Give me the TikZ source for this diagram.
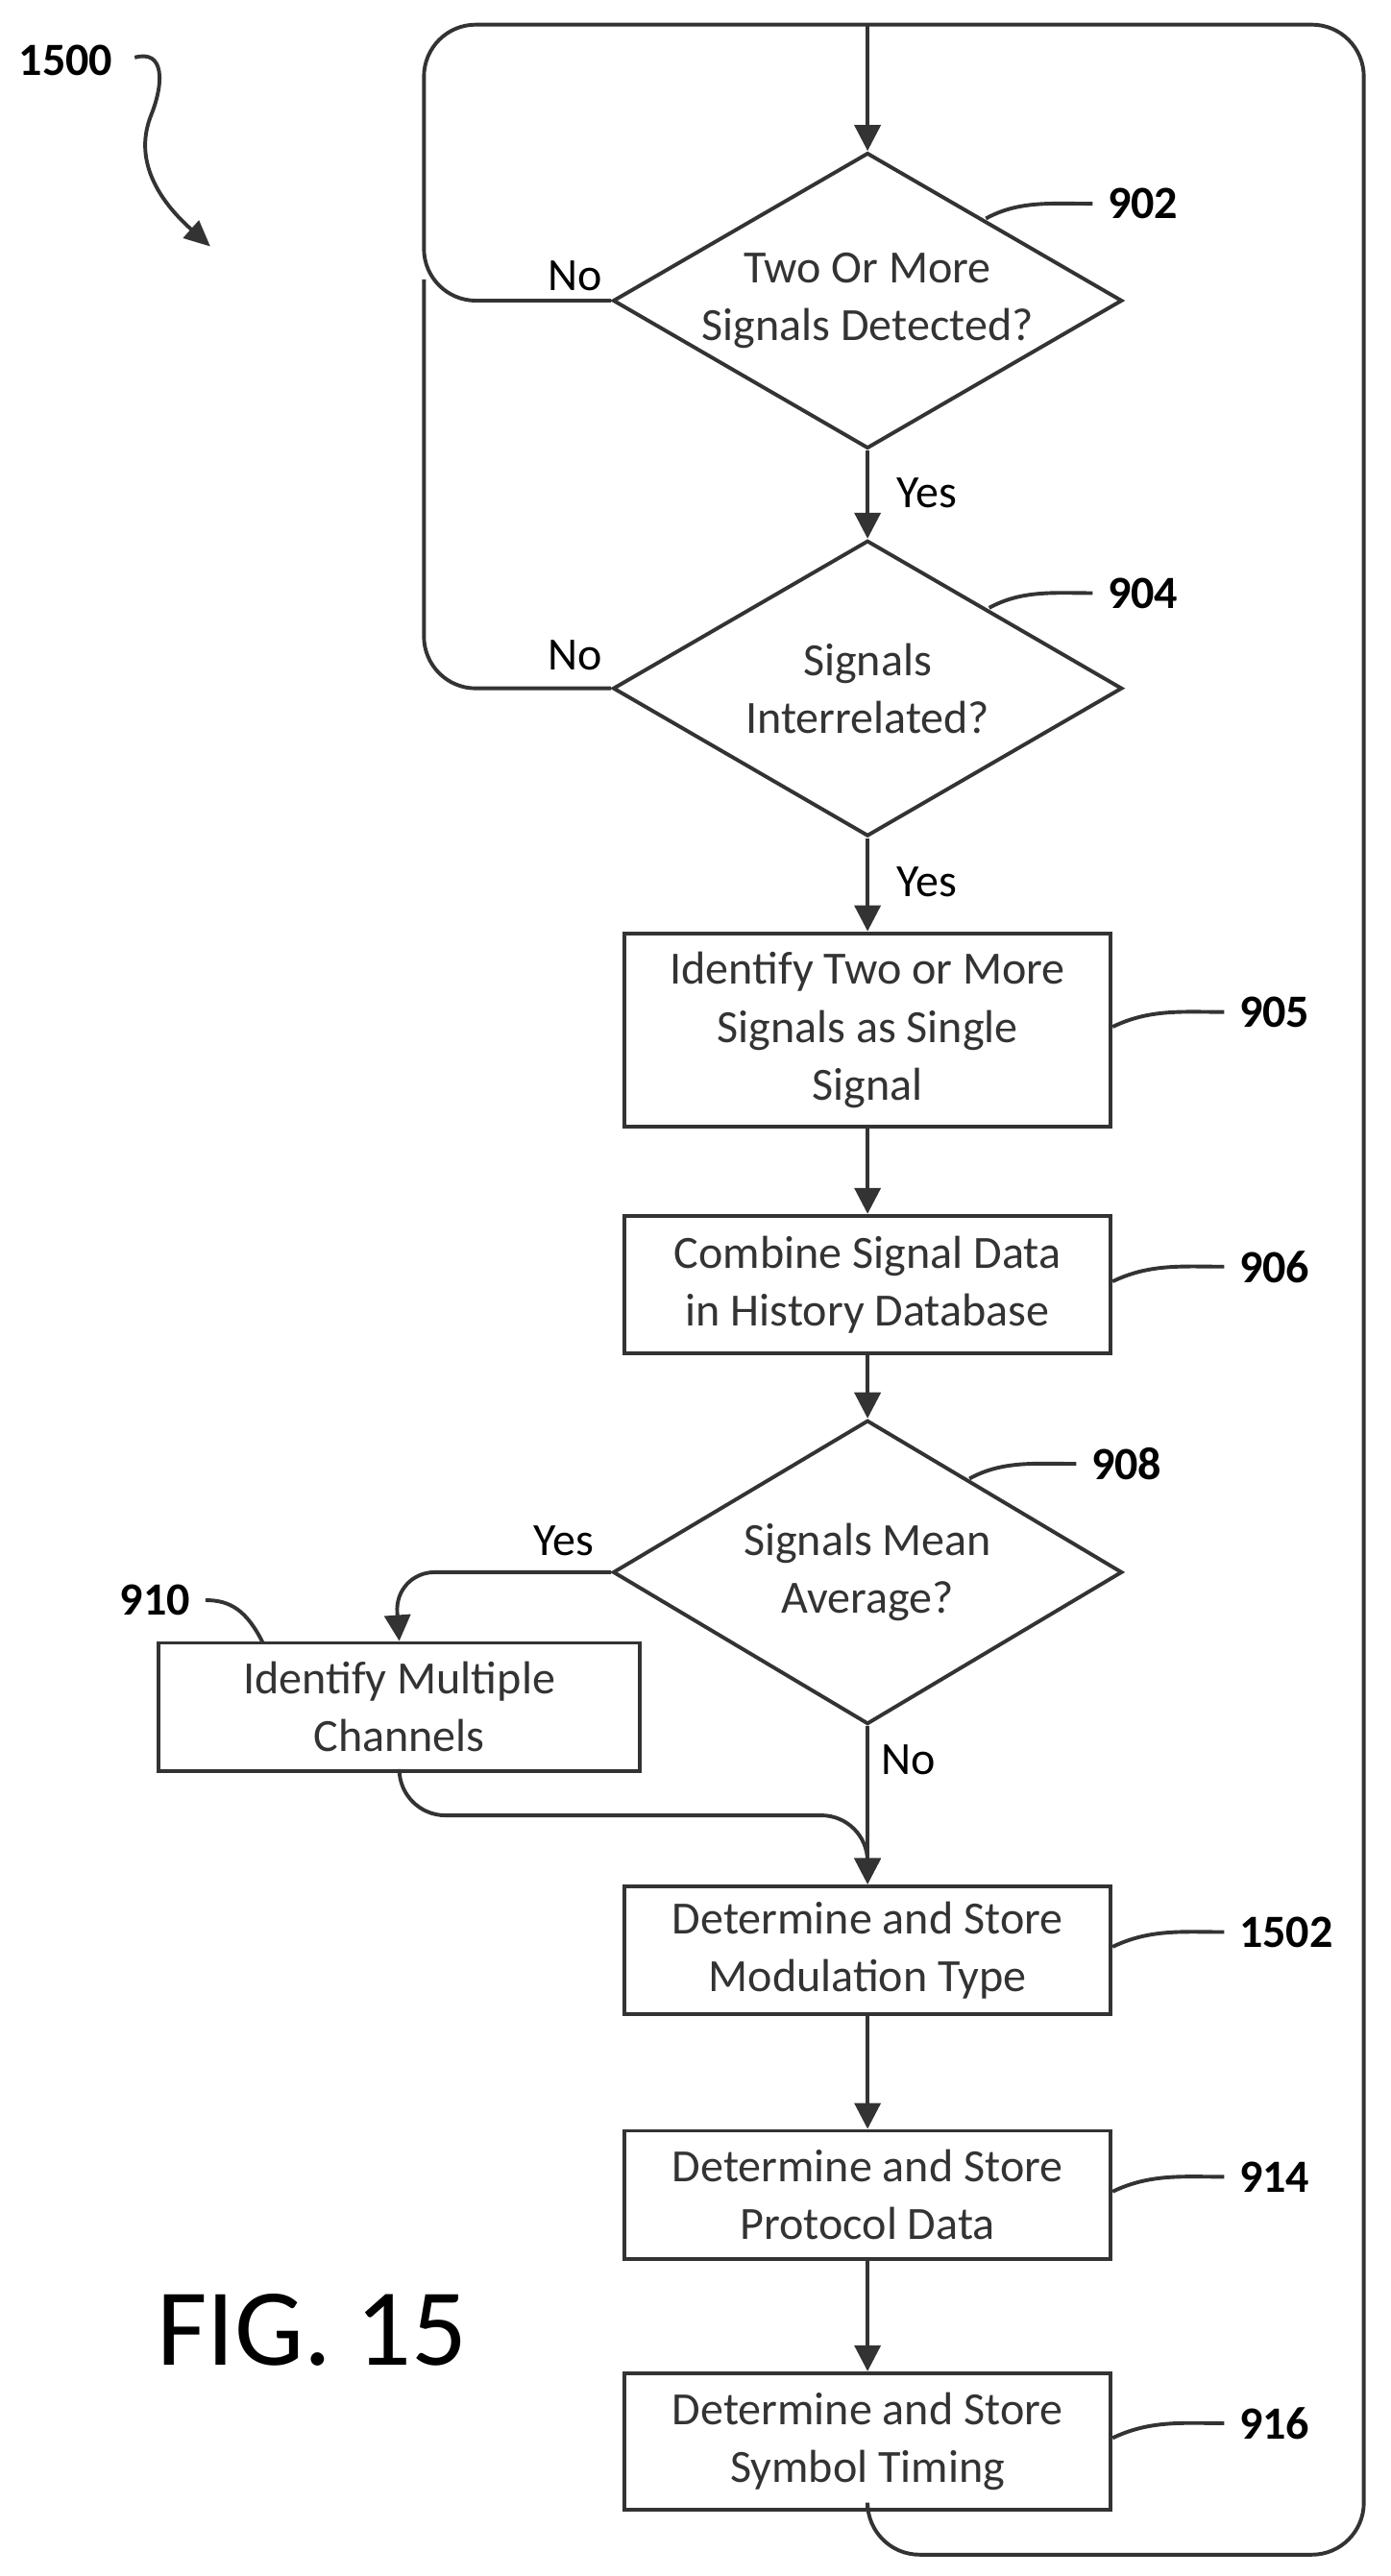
\documentclass[tikz,border=0pt]{standalone}
\usepackage{fontspec}
\setmainfont{Carlito}
\usetikzlibrary{shapes.geometric,arrows.meta}
\tikzset{
  line/.style={line width=1.3pt, black!80},
  arrow/.style={line, -{Triangle[length=9pt,width=9pt]}},
  decision/.style={draw, line, diamond, minimum width=6.2cm, minimum height=3.6cm, inner sep=0pt, aspect=1.7, align=center, font=\fontsize{16}{20}\selectfont},
  process/.style={draw, line, rectangle, minimum width=5.92cm, minimum height=1.56cm, align=center, font=\fontsize{16}{20}\selectfont},
  ref/.style={font=\bfseries\fontsize{16}{20}\selectfont},
  tag/.style={font=\fontsize{16}{20}\selectfont}
}
\begin{document}
\begin{tikzpicture}[x=0.02cm,y=-0.02cm]
\useasboundingbox (0,0) rectangle (846,1568);
\node[decision] (d902) at (528,183) {Two Or More\\Signals Detected?};
\node[decision] (d904) at (528,419) {Signals\\Interrelated?};
\node[process, minimum height=2.36cm] (b905) at (528,627) {Identify Two or More\\Signals as Single\\Signal};
\node[process, minimum height=1.68cm] (b906) at (528,782) {Combine Signal Data\\in History Database};
\node[decision, minimum height=3.7cm] (d908) at (528,957) {Signals Mean\\Average?};
\node[process, minimum width=5.86cm] (b910) at (243,1039) {Identify Multiple\\Channels};
\node[process] (b1502) at (528,1187) {Determine and Store\\Modulation Type};
\node[process] (b914) at (528,1336) {Determine and Store\\Protocol Data};
\node[process, minimum height=1.66cm] (b916) at (528,1486) {Determine and Store\\Symbol Timing};
\coordinate (top) at (528,15);
\coordinate (join) at (528,1105);

% loop back to the top
\draw[line, rounded corners=18] (d902.west) -- (258,183) -- (258,15) -- (830,15) -- (830,1555) -- (528,1555) -- (b916.south);
\draw[line, rounded corners=18] (d904.west) -- (258,419) -- (258,170);
\draw[arrow] (top) -- (d902.north);

\draw[arrow] (d902.south) -- (d904.north);
\draw[arrow] (d904.south) -- (b905.north);
\draw[arrow] (b905.south) -- (b906.north);
\draw[arrow] (b906.south) -- (d908.north);
\draw[arrow, rounded corners=14] (d908.west) -- (240,957) -- (b910.north);
\draw[arrow] (d908.south) -- (b1502.north);
\draw[arrow, rounded corners=16] (b910.south) -- (243,1105) -- (join) -- (b1502.north);
\draw[arrow] (b1502.south) -- (b914.north);
\draw[arrow] (b914.south) -- (b916.north);

\node[tag] at (350,168) {No};
\node[tag] at (350,399) {No};
\node[tag] at (564,300) {Yes};
\node[tag] at (564,537) {Yes};
\node[tag] at (343,938) {Yes};
\node[tag] at (553,1071) {No};

% reference numerals
\draw[line] (600,133) .. controls (620,122) and (640,124) .. (665,124);
\node[ref, anchor=west] (n902) at (668,124) {902};
\draw[line] (602,370) .. controls (622,359) and (642,361) .. (665,361);
\node[ref, anchor=west] (n904) at (668,361) {904};
\draw[line] (b905.east |- 0,625) .. controls (700,614) and (720,616) .. (745,616);
\node[ref, anchor=west] (n905) at (748,616) {905};
\draw[line] (b906.east |- 0,780) .. controls (700,769) and (720,771) .. (745,771);
\node[ref, anchor=west] (n906) at (748,771) {906};
\draw[line] (590,900) .. controls (610,889) and (630,891) .. (655,891);
\node[ref, anchor=west] (n908) at (658,891) {908};
\draw[line] (160,1000) .. controls (150,980) and (140,974) .. (125,974);
\node[ref, anchor=east] (n910) at (122,974) {910};
\draw[line] (b1502.east |- 0,1185) .. controls (700,1174) and (720,1176) .. (745,1176);
\node[ref, anchor=west] (n1502) at (748,1176) {1502};
\draw[line] (b914.east |- 0,1334) .. controls (700,1323) and (720,1325) .. (745,1325);
\node[ref, anchor=west] (n914) at (748,1325) {914};
\draw[line] (b916.east |- 0,1484) .. controls (700,1473) and (720,1475) .. (745,1475);
\node[ref, anchor=west] (n916) at (748,1475) {916};

\node[ref] (n1500) at (40,37) {1500};
\draw[line, -{Triangle[length=9pt,width=8pt]}] (82,35) .. controls (100,30) and (100,50) .. (92,70) .. controls (80,100) and (100,125) .. (128,150);
\node[font=\fontsize{38}{44}\selectfont] (fig) at (190,1418) {FIG. 15};
\end{tikzpicture}
\end{document}
